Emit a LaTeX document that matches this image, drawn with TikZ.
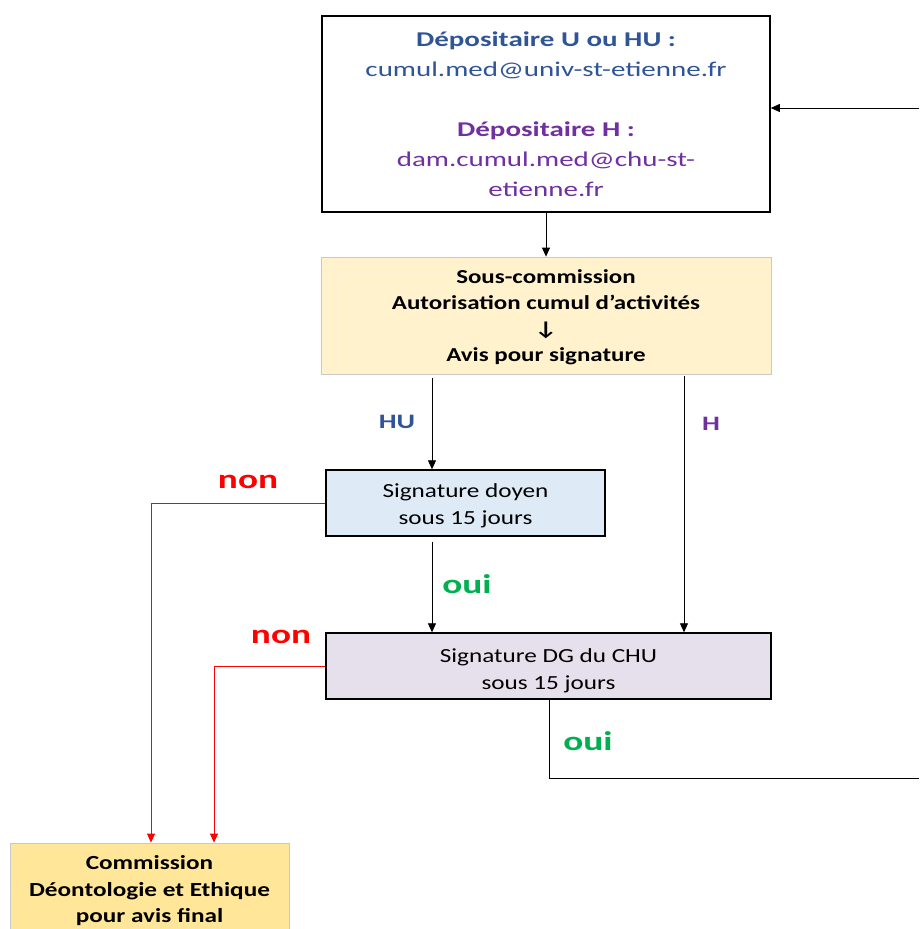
\documentclass[tikz,border=0pt]{standalone}
\usepackage{fontspec}
\setmainfont{Carlito}
\newfontfamily\stra[FakeStretch=1.26]{Carlito}
\newfontfamily\strb[FakeStretch=1.38]{Carlito}
\usetikzlibrary{arrows.meta}
\newcommand\mlin[2]{\raisebox{-#1}[\height][\depth]{\begin{tabular}{@{}c@{}}#2\end{tabular}}}
\definecolor{dblue}{HTML}{2F5597}
\definecolor{dpurple}{HTML}{7030A0}
\definecolor{dred}{HTML}{FF0000}
\definecolor{dgreen}{HTML}{00B050}
\definecolor{cream}{HTML}{FFF2CC}
\definecolor{lblue}{HTML}{DEEBF7}
\definecolor{lav}{HTML}{E6E0EC}
\definecolor{gold}{HTML}{FFE699}
\definecolor{lborder}{HTML}{C9C9C9}
\begin{document}
\begin{tikzpicture}[x=1pt,y=-1pt,
  box/.style={draw=black, line width=1.6pt, rectangle, inner sep=0pt},
  softbox/.style={draw=lborder, line width=0.8pt, rectangle, inner sep=0pt},
  arr/.style={draw=black, line width=0.8pt, -{Triangle[length=9pt,width=8pt]}},
  redarr/.style={draw=dred, line width=0.8pt, -{Triangle[length=9pt,width=8pt]}},
  plain/.style={draw=black, line width=0.8pt},
  lab/.style={inner sep=0pt, font=\strb\fontsize{27}{30}\selectfont\bfseries},
  slab/.style={inner sep=0pt, font=\strb\fontsize{20.5}{24}\selectfont\bfseries}
]
\useasboundingbox (0,0) rectangle (919,929);
\clip (0,0) rectangle (919,929);

\node[box, fill=white, minimum width=448pt, minimum height=196pt,
      font=\strb\fontsize{21}{30}\selectfont] (dep) at (546,114)
  {\mlin{1pt}{{\color{dblue}\textbf{Dépositaire U ou HU :}}\\
   {\color{dblue}cumul.med@univ-st-etienne.fr}\\[30pt]
   {\color{dpurple}\textbf{Dépositaire H :}}\\
   {\color{dpurple}dam.cumul.med@chu-st-}\\
   {\color{dpurple}etienne.fr}}};

\node[softbox, fill=cream, minimum width=450pt, minimum height=117pt,
      font=\stra\fontsize{19.8}{26}\selectfont\bfseries] (sous) at (546,315.5)
  {\mlin{2pt}{Sous-commission\\ Autorisation cumul d’activités\\ ↓\\ Avis pour signature}};

\node[box, line width=1.4pt, fill=lblue, minimum width=279pt, minimum height=66pt,
      font=\stra\fontsize{20}{27}\selectfont] (doy) at (465.5,503)
  {\mlin{3pt}{Signature doyen\\ sous 15 jours}};

\node[box, line width=1.4pt, fill=lav, minimum width=445pt, minimum height=66pt,
      font=\stra\fontsize{20}{27}\selectfont] (dg) at (548.5,666)
  {\mlin{5pt}{Signature DG du CHU\\ sous 15 jours}};

\node[softbox, fill=gold, minimum width=279pt, minimum height=92pt,
      font=\stra\fontsize{20}{26.5}\selectfont\bfseries] (comm) at (149.5,889)
  {\mlin{2pt}{Commission\\ Déontologie et Ethique\\ pour avis final}};

% connectors
\coordinate (ein) at (919,108);
\draw[arr] (ein) -- (ein -| dep.east);
\draw[arr] (dep.south) -- (sous.north);

\coordinate (hu) at ([xshift=-114pt,yshift=-4pt]sous.south);
\draw[arr] (hu) -- (hu |- doy.north);
\coordinate (h) at ([xshift=138pt,yshift=-2pt]sous.south);
\draw[arr] (h) -- (h |- dg.north);
\coordinate (o1) at ([yshift=-5pt]doy.south -| hu);
\draw[arr] (o1) -- (o1 |- dg.north);

\draw[redarr] (doy.west) -| ([xshift=1.5pt]comm.north);
\draw[redarr] (dg.west) -| ([xshift=64.5pt]comm.north);

\coordinate (eout) at (919,778);
\draw[plain] ([xshift=0.5pt]dg.south) |- (eout);

% labels
\node[slab, text=dblue] (lhu) at (397,422) {HU};
\node[slab, text=dpurple] (lh) at (711,424) {H};
\node[lab, text=dred] (lnon1) at (248,482) {non};
\node[lab, text=dred] (lnon2) at (281,637) {non};
\node[lab, text=dgreen] (loui1) at (467,584) {oui};
\node[lab, text=dgreen] (loui2) at (588,741) {oui};
\end{tikzpicture}
\end{document}
